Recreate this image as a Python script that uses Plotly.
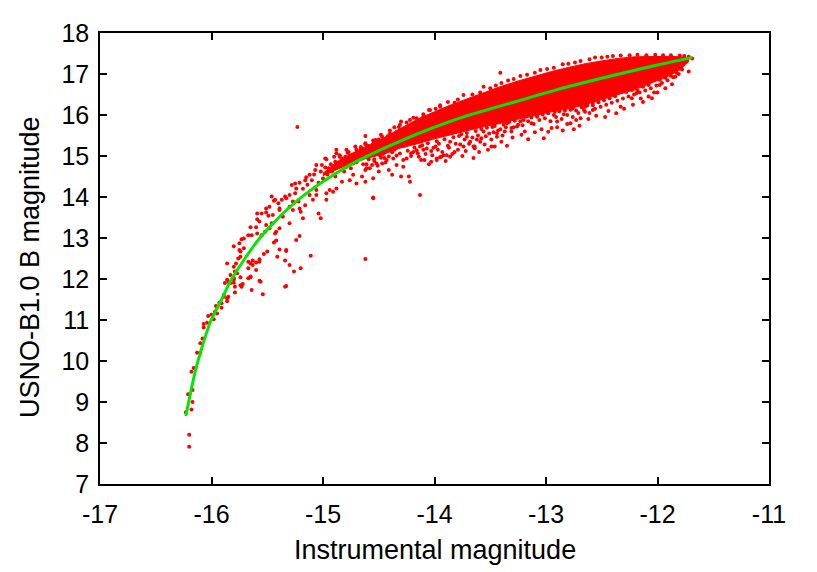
import plotly.graph_objects as go

# ---------------- data ----------------
x_ticks = [-17, -16, -15, -14, -13, -12, -11]
x_tick_labels = ["-17", "-16", "-15", "-14", "-13", "-12", "-11"]
y_ticks = [7, 8, 9, 10, 11, 12, 13, 14, 15, 16, 17, 18]
y_tick_labels = ["7", "8", "9", "10", "11", "12", "13", "14", "15", "16", "17", "18"]

# fitted relation (green curve)
fit_x = [-16.23, -16.15, -16.10, -16.01, -15.90, -15.83, -15.70, -15.59, -15.45, -15.30,
         -15.12, -14.90, -14.70, -14.50, -14.30, -14.04, -13.80, -13.50, -13.20, -12.90,
         -12.60, -12.25, -12.00, -11.69]
fit_y = [8.66, 9.70, 10.20, 10.95, 11.55, 11.95, 12.50, 12.92, 13.35, 13.75,
         14.15, 14.55, 14.87, 15.13, 15.37, 15.66, 15.90, 16.15, 16.38, 16.62,
         16.83, 17.06, 17.22, 17.40]

# densest part of the star cloud (solid red region), upper and lower envelope
core_x = [-15.00, -14.88, -14.75, -14.60, -14.45, -14.30, -14.15, -14.00, -13.85, -13.70,
          -13.55, -13.40, -13.25, -13.10, -12.95, -12.80, -12.65, -12.50, -12.35, -12.20,
          -12.05, -11.90, -11.80, -11.72]
core_upper = [14.58, 14.85, 15.05, 15.25, 15.45, 15.68, 15.90, 16.08, 16.25, 16.40,
              16.55, 16.70, 16.83, 16.95, 17.06, 17.16, 17.25, 17.32, 17.38, 17.42,
              17.43, 17.43, 17.42, 17.40]
core_lower = [14.52, 14.66, 14.82, 14.95, 15.05, 15.20, 15.30, 15.42, 15.52, 15.62,
              15.72, 15.80, 15.90, 15.98, 16.08, 16.15, 16.25, 16.38, 16.50, 16.62,
              16.78, 16.95, 17.10, 17.30]

# bright-star tail (x < -15)
tail_pts = [
    (-16.20, 7.91), (-16.20, 8.20), (-16.23, 8.75), (-16.18, 8.82), (-16.17, 9.00),
    (-16.21, 9.19), (-16.17, 9.29), (-16.18, 9.74), (-16.16, 9.83), (-16.13, 10.20),
    (-16.10, 10.21), (-16.10, 10.43), (-16.08, 10.55), (-16.07, 10.82), (-16.07, 10.90),
    (-16.04, 10.93), (-16.03, 11.10), (-16.00, 11.13), (-15.98, 11.02), (-15.97, 11.20),
    (-15.96, 11.34), (-15.95, 11.16), (-15.93, 11.42), (-15.91, 11.30), (-15.91, 11.41),
    (-15.89, 11.57), (-15.89, 11.61), (-15.86, 11.46), (-15.86, 11.53), (-15.85, 11.57),
    (-15.88, 11.90), (-15.86, 11.98), (-15.85, 11.93), (-15.83, 11.90), (-15.80, 11.98),
    (-15.80, 12.02), (-15.80, 11.91), (-15.79, 11.81), (-15.79, 11.67), (-15.83, 12.10),
    (-15.79, 12.18), (-15.86, 12.38), (-15.80, 12.30), (-15.77, 12.14), (-15.78, 12.38),
    (-15.74, 11.85), (-15.73, 11.81), (-15.72, 11.88), (-15.74, 12.04), (-15.67, 12.02),
    (-15.65, 12.06), (-15.67, 12.26), (-15.65, 12.04), (-15.64, 11.73), (-15.57, 11.96),
    (-15.56, 11.93), (-15.54, 11.63), (-15.67, 12.42), (-15.65, 12.38), (-15.63, 12.34),
    (-15.63, 12.45), (-15.60, 12.40), (-15.57, 12.42), (-15.60, 12.22), (-15.57, 12.48),
    (-15.53, 12.61), (-15.50, 12.67), (-15.76, 12.50), (-15.74, 12.54), (-15.75, 12.71),
    (-15.74, 12.67), (-15.71, 12.75), (-15.80, 12.80), (-15.75, 12.87), (-15.71, 12.99),
    (-15.73, 12.97), (-15.67, 13.07), (-15.64, 13.07), (-15.59, 13.11), (-15.55, 13.07),
    (-15.52, 13.15), (-15.65, 13.26), (-15.60, 13.26), (-15.51, 13.32), (-15.48, 13.24),
    (-15.46, 13.36), (-15.59, 13.46), (-15.57, 13.40), (-15.55, 13.60), (-15.59, 13.60),
    (-15.49, 13.54), (-15.51, 13.62), (-15.51, 13.72), (-15.48, 13.76), (-15.43, 13.93),
    (-15.46, 14.01), (-15.44, 13.91), (-15.39, 13.68), (-15.39, 13.72), (-15.36, 13.52),
    (-15.42, 13.15), (-15.43, 13.11), (-15.44, 12.89), (-15.42, 12.94), (-15.39, 12.72),
    (-15.33, 12.71), (-15.33, 12.68), (-15.41, 12.54), (-15.34, 12.45), (-15.30, 12.34),
    (-15.26, 12.18), (-15.20, 12.26), (-15.34, 11.81), (-15.33, 11.83), (-15.11, 12.57),
    (-15.24, 12.95), (-15.21, 13.05), (-15.30, 13.36), (-15.39, 13.24), (-15.40, 13.85),
    (-15.37, 13.93), (-15.33, 13.97), (-15.30, 14.05), (-15.25, 14.09), (-15.22, 13.89),
    (-15.16, 13.80), (-15.27, 13.68), (-15.20, 13.64), (-15.04, 13.60), (-15.02, 13.48),
    (-15.06, 14.05), (-14.97, 14.09), (-14.91, 14.13), (-15.45, 13.56), (-15.30, 13.76),
    (-15.27, 13.89), (-15.21, 13.72), (-15.18, 13.48),
]

# middle part of the cloud (-15.3 < x < -13.4)
mid_pts = [
    (-15.28, 14.29), (-15.25, 14.33), (-15.24, 14.21), (-15.21, 14.35), (-15.15, 14.48),
    (-15.10, 14.41), (-15.06, 14.78), (-14.98, 14.94), (-14.95, 14.70), (-14.89, 14.86),
    (-14.88, 15.15), (-14.85, 15.02), (-14.79, 14.74), (-14.73, 14.82), (-14.65, 14.94),
    (-14.61, 14.70), (-14.55, 14.46), (-14.62, 14.37), (-14.52, 14.82), (-15.09, 13.93),
    (-14.97, 13.93), (-14.55, 13.97), (-15.34, 14.01), (-15.16, 14.41), (-15.12, 14.54),
    (-15.07, 14.66), (-15.01, 14.78), (-14.97, 14.92), (-14.88, 15.07), (-14.83, 14.94),
    (-14.79, 15.15), (-14.76, 15.02), (-14.71, 15.23), (-14.67, 15.10), (-14.62, 15.31),
    (-14.58, 15.19), (-14.53, 15.39), (-14.47, 15.47), (-14.43, 15.35), (-14.40, 15.55),
    (-14.34, 15.59), (-14.32, 15.71), (-14.30, 15.84), (-14.22, 15.88), (-14.16, 15.92),
    (-14.10, 15.96), (-14.04, 16.12), (-13.98, 16.04), (-13.95, 16.24), (-14.62, 15.49),
    (-15.06, 14.17), (-14.94, 14.17), (-14.88, 14.21), (-14.83, 14.37), (-14.89, 14.50),
    (-14.76, 14.41), (-14.73, 14.54), (-14.70, 14.33), (-14.65, 14.50), (-14.62, 14.66),
    (-14.56, 14.78), (-14.50, 14.62), (-14.47, 14.82), (-14.43, 14.90), (-14.41, 14.66),
    (-14.37, 14.94), (-14.34, 14.78), (-14.38, 14.54), (-14.30, 14.50), (-14.28, 14.74),
    (-14.25, 14.94), (-14.22, 14.37), (-14.21, 15.07), (-14.15, 15.07), (-14.10, 15.15),
    (-14.09, 14.90), (-14.03, 14.86), (-13.98, 14.90), (-13.94, 14.98), (-13.89, 15.02),
    (-13.99, 15.23), (-14.55, 13.99), (-14.23, 14.50), (-14.12, 14.90), (-13.95, 14.97),
    (-13.82, 15.10), (-13.65, 15.23), (-13.58, 15.43), (-13.44, 15.55),
    (-15.18, 14.20), (-15.14, 14.30), (-15.12, 14.05), (-15.08, 14.55), (-15.04, 14.35),
    (-15.02, 14.62), (-15.00, 14.45), (-14.98, 14.72), (-14.96, 14.55), (-14.93, 14.80),
    (-14.92, 14.62), (-14.90, 14.98), (-14.86, 14.75), (-14.84, 14.88), (-14.81, 14.62),
    (-14.80, 14.98), (-14.78, 14.85), (-14.77, 15.10), (-14.75, 14.70), (-14.74, 14.95),
    (-14.72, 15.05), (-14.70, 14.85), (-14.68, 14.98), (-14.66, 15.18), (-14.64, 14.80),
    (-14.63, 15.05), (-14.60, 15.25), (-14.59, 14.92), (-14.57, 15.10), (-14.55, 15.30),
    (-14.54, 14.92), (-14.52, 15.15), (-14.50, 15.40), (-14.49, 15.02), (-14.46, 15.25),
    (-14.45, 14.95), (-14.42, 15.48),
]

# lower fringe of the dense band
fringe_pts = [
    (-14.61, 14.80), (-14.58, 14.70), (-14.54, 14.88), (-14.51, 14.76), (-14.48, 14.96),
    (-14.44, 14.84), (-14.41, 14.99), (-14.38, 15.09), (-14.34, 15.01), (-14.31, 15.06),
    (-14.28, 14.90), (-14.24, 15.13), (-14.21, 15.00), (-14.18, 15.21), (-14.16, 15.14),
    (-14.13, 15.23), (-14.11, 15.26), (-14.08, 15.05), (-14.06, 15.31), (-14.03, 15.12),
    (-14.01, 15.20), (-13.98, 15.36), (-13.96, 15.30), (-13.93, 15.10), (-13.91, 15.41),
    (-13.88, 15.25), (-13.86, 15.35), (-13.83, 15.46), (-13.81, 15.30), (-13.78, 15.49),
    (-13.79, 15.15), (-13.76, 15.53), (-13.73, 15.40), (-13.71, 15.56), (-13.68, 15.35),
    (-13.66, 15.45), (-13.63, 15.61), (-13.61, 15.50), (-13.58, 15.66), (-13.59, 15.35),
    (-13.56, 15.60), (-13.53, 15.69), (-13.51, 15.55), (-13.48, 15.71), (-13.49, 15.40),
    (-13.46, 15.73), (-13.43, 15.62), (-13.41, 15.65), (-13.38, 15.76), (-13.39, 15.50),
    (-13.36, 15.70), (-13.33, 15.83), (-13.31, 15.60), (-13.28, 15.86), (-13.26, 15.72),
    (-13.23, 15.85), (-13.21, 15.75), (-13.18, 15.96), (-13.19, 15.60), (-13.16, 15.85),
    (-13.13, 15.94), (-13.11, 15.78), (-13.08, 15.96), (-13.06, 15.88), (-13.03, 16.01),
    (-13.04, 15.65), (-13.01, 15.92), (-12.98, 16.06), (-12.96, 15.85), (-12.93, 16.00),
    (-12.91, 15.95), (-12.88, 16.09), (-12.86, 15.90), (-12.83, 16.11), (-12.84, 16.02),
    (-12.81, 16.00), (-12.78, 16.13), (-12.76, 15.95), (-12.73, 16.11), (-12.71, 16.05),
    (-12.68, 16.19), (-12.69, 15.92), (-12.66, 16.12), (-12.63, 16.23), (-12.61, 16.05),
    (-12.58, 16.29), (-12.56, 16.15), (-12.53, 16.31), (-12.51, 16.20), (-12.48, 16.36),
    (-12.46, 16.25), (-12.43, 16.41), (-12.44, 16.10), (-12.41, 16.30), (-12.38, 16.46),
    (-12.36, 16.35), (-12.33, 16.20), (-12.31, 16.40), (-12.28, 16.56), (-12.26, 16.45),
    (-12.23, 16.61), (-12.21, 16.50), (-12.18, 16.59), (-12.16, 16.55), (-12.13, 16.69),
    (-12.11, 16.60), (-12.08, 16.73), (-12.06, 16.65), (-12.03, 16.55), (-12.01, 16.72),
    (-11.98, 16.86), (-11.96, 16.78), (-11.93, 16.91), (-11.91, 16.85), (-11.88, 16.96),
    (-11.86, 16.92), (-11.83, 17.03), (-11.81, 17.00), (-11.78, 17.11),
    (-13.16, 15.41), (-13.02, 15.43), (-12.98, 15.59), (-12.90, 15.70), (-12.81, 15.78),
    (-12.73, 15.88), (-12.65, 16.20), (-12.58, 16.24), (-12.53, 16.45), (-12.37, 16.04),
    (-12.23, 16.41), (-12.19, 16.53), (-12.13, 16.32), (-12.05, 16.41), (-11.98, 16.73),
    (-11.84, 16.93), (-11.72, 17.06), (-13.52, 15.15), (-13.49, 15.23), (-13.44, 15.47),
    (-13.64, 15.23), (-13.86, 14.98), (-13.92, 15.02), (-13.98, 14.94), (-13.74, 15.23),
    (-13.71, 15.47), (-13.31, 15.68), (-13.25, 15.76), (-13.35, 15.80), (-13.13, 15.80),
    (-13.20, 15.88), (-13.08, 16.00), (-12.98, 16.04), (-12.92, 16.08), (-12.76, 16.16),
    (-12.65, 16.08), (-12.58, 16.12), (-12.90, 15.84), (-13.46, 15.23), (-13.64, 15.19),
    (-14.27, 15.25), (-14.19, 15.10), (-14.07, 15.18), (-13.97, 15.15), (-13.87, 15.20),
    (-13.77, 15.28), (-13.69, 15.30), (-13.62, 15.40), (-13.54, 15.48), (-13.47, 15.58),
    (-13.37, 15.60), (-13.29, 15.70), (-14.36, 15.15), (-14.46, 15.05), (-14.14, 14.98),
    (-14.02, 15.02), (-13.84, 15.05), (-13.72, 15.12),
    (-14.05, 14.80), (-13.90, 14.88), (-13.75, 15.00), (-13.60, 15.10), (-13.55, 15.28),
    (-13.40, 15.35), (-13.30, 15.45), (-13.22, 15.52), (-13.10, 15.58), (-12.95, 15.68),
    (-12.85, 15.62), (-12.78, 15.80), (-12.70, 15.74), (-12.62, 15.90), (-12.55, 15.98),
    (-12.47, 15.95), (-12.30, 16.15), (-12.22, 16.25), (-12.15, 16.40), (-12.08, 16.45),
    (-12.00, 16.55), (-11.93, 16.65), (-11.87, 16.75), (-13.65, 14.95), (-13.35, 15.25),
    (-12.75, 15.65),
]

# upper fringe of the dense band and isolated outliers
upper_pts = [
    (-14.70, 15.15), (-14.55, 15.38), (-14.40, 15.62), (-14.25, 15.82), (-14.10, 16.02),
    (-13.95, 16.20), (-13.82, 16.30), (-13.74, 16.49), (-13.59, 16.55), (-13.56, 16.69),
    (-13.45, 16.72), (-13.34, 16.84), (-13.23, 16.95), (-13.10, 17.03), (-12.99, 17.12),
    (-12.85, 17.24), (-12.74, 17.28), (-12.61, 17.36), (-12.50, 17.40), (-12.40, 17.44),
    (-12.25, 17.46), (-12.10, 17.46), (-11.95, 17.46), (-11.80, 17.45), (-11.72, 17.42),
    (-11.69, 17.38),
    (-14.85, 14.98), (-14.78, 15.08), (-14.66, 15.22), (-14.62, 15.28), (-14.48, 15.52),
    (-14.36, 15.70), (-14.31, 15.76), (-14.19, 15.93), (-14.05, 16.12), (-13.99, 16.15),
    (-13.88, 16.32), (-13.79, 16.38), (-13.66, 16.50), (-13.50, 16.65), (-13.40, 16.78),
    (-13.29, 16.88), (-13.17, 16.98), (-13.05, 17.10), (-12.93, 17.15), (-12.80, 17.25),
    (-12.69, 17.32), (-12.56, 17.40), (-12.45, 17.42), (-12.33, 17.45), (-12.18, 17.47),
    (-12.02, 17.47), (-11.88, 17.46), (-11.76, 17.44),
]
outlier_pts = [(-15.23, 15.71), (-14.62, 12.49), (-14.13, 14.05), (-13.41, 17.03)]

# ---------------- figure ----------------
pts = tail_pts + mid_pts + fringe_pts + upper_pts + outlier_pts
px = [p[0] for p in pts]
py = [p[1] for p in pts]

RED = "#ff0000"
GREEN = "#00e800"

fig = go.Figure()
fig.add_trace(go.Scatter(
    x=core_x + core_x[::-1], y=core_upper + core_lower[::-1],
    mode="lines", fill="toself", fillcolor=RED,
    line=dict(color=RED, width=1), hoverinfo="skip", showlegend=False))
fig.add_trace(go.Scatter(
    x=px, y=py, mode="markers",
    marker=dict(color=RED, size=4, line=dict(width=0)),
    showlegend=False))
fig.add_trace(go.Scatter(
    x=fit_x, y=fit_y, mode="lines",
    line=dict(color=GREEN, width=3, shape="spline", smoothing=0.8),
    showlegend=False))

FONT = "Liberation Sans"
axis_common = dict(
    showgrid=False, zeroline=False, showline=True, linecolor="black", linewidth=1.5,
    mirror="ticks", ticks="inside", ticklen=7, tickwidth=1.5, tickcolor="black",
    tickfont=dict(family=FONT, size=25, color="black"),
)
fig.update_layout(
    width=817, height=572, autosize=False,
    margin=dict(l=92, r=56, t=25, b=96),
    paper_bgcolor="white", plot_bgcolor="white",
    font=dict(family=FONT, color="black"),
    xaxis=dict(range=[-17, -11], tickvals=x_ticks, ticktext=x_tick_labels,
               ticklabelstandoff=7, **axis_common),
    yaxis=dict(range=[7, 18], tickvals=y_ticks, ticktext=y_tick_labels,
               ticklabelstandoff=4, **axis_common),
    annotations=[
        dict(text="Instrumental magnitude", xref="paper", yref="paper",
             x=0.5, y=-0.146, xanchor="center", yanchor="middle", showarrow=False,
             font=dict(family=FONT, size=27, color="black")),
        dict(text="USNO-B1.0 B magnitude", xref="paper", yref="paper",
             x=-0.1046, y=0.481, xanchor="center", yanchor="middle", showarrow=False,
             textangle=-90, font=dict(family=FONT, size=27, color="black")),
    ],
)
fig.write_html("out.html")
